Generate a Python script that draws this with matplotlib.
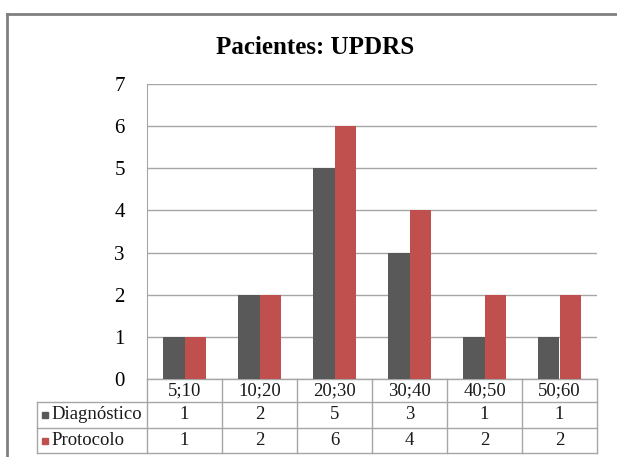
import matplotlib.pyplot as plt
import matplotlib.transforms as mtransforms
from matplotlib.lines import Line2D
import numpy as np

plt.rcParams['font.family'] = ['Liberation Serif', 'DejaVu Serif']

categories = ['5;10', '10;20', '20;30', '30;40', '40;50', '50;60']
diagnostico = [1, 2, 5, 3, 1, 1]
protocolo = [1, 2, 6, 4, 2, 2]
series_names = ['Diagnóstico', 'Protocolo']
colors = ['#595959', '#c0504d']

W, H = 617, 457
fig = plt.figure(figsize=(W / 100, H / 100), dpi=100)
ax = fig.add_axes([147 / W, (H - 379) / H, 450 / W, 295 / H])

x = np.arange(len(categories))
bw = 0.287
ax.bar(x - bw / 2, diagnostico, bw, color=colors[0], zorder=3)
ax.bar(x + bw / 2, protocolo, bw, color=colors[1], zorder=3)

ax.set_xlim(-0.5, len(categories) - 0.5)
ax.set_ylim(0, 7)
ax.set_yticks(range(0, 8))
ax.set_xticks([])
ax.tick_params(axis='y', length=0, pad=16, labelsize=15)
ax.grid(axis='y', color='#a6a6a6', lw=1, zorder=0)
for s in ['top', 'right', 'bottom']:
    ax.spines[s].set_visible(False)
ax.spines['left'].set_color('#a6a6a6')

# data table under the axis
tr = mtransforms.blended_transform_factory(ax.transData, ax.transAxes)
lc = '#a6a6a6'
left = -0.5 - 110 / 75
rows = [0, -0.078, -0.166, -0.251]
for y in rows[1:]:
    ax.add_line(Line2D([left, 5.5], [y, y], color=lc, lw=1, transform=tr, clip_on=False))
ax.add_line(Line2D([-0.5, 5.5], [0, 0], color=lc, lw=1, transform=tr, clip_on=False))
for xb in np.arange(-0.5, 6, 1):
    ax.add_line(Line2D([xb, xb], [0, rows[-1]], color=lc, lw=1, transform=tr, clip_on=False))
ax.add_line(Line2D([left, left], [rows[1], rows[-1]], color=lc, lw=1, transform=tr, clip_on=False))

fs = 13.5
for i, c in enumerate(categories):
    ax.text(i, (rows[0] + rows[1]) / 2, c, ha='center', va='center', fontsize=fs,
            color='#1a1a1a', transform=tr)
for r, (name, vals, col) in enumerate(zip(series_names, [diagnostico, protocolo], colors)):
    yc = (rows[r + 1] + rows[r + 2]) / 2
    ax.plot([left + 0.1], [yc], marker='s', ms=5, color=col, transform=tr, clip_on=False)
    ax.text(left + 0.19, yc, name, ha='left', va='center', fontsize=fs, color='#1a1a1a',
            transform=tr)
    for i, v in enumerate(vals):
        ax.text(i, yc, str(v), ha='center', va='center', fontsize=fs, color='#1a1a1a',
                transform=tr)

fig.text(315 / W, 1 - 47 / H, 'Pacientes: UPDRS', ha='center', va='center',
         fontsize=18, fontweight='bold')

# chart border (cropped at right and bottom)
fig.add_artist(Line2D([7 / W, 7 / W], [0, 1 - 14 / H], color='#808080', lw=2))
fig.add_artist(Line2D([7 / W, 1], [1 - 14 / H, 1 - 14 / H], color='#808080', lw=2))

fig.savefig('out.png', dpi=100)
